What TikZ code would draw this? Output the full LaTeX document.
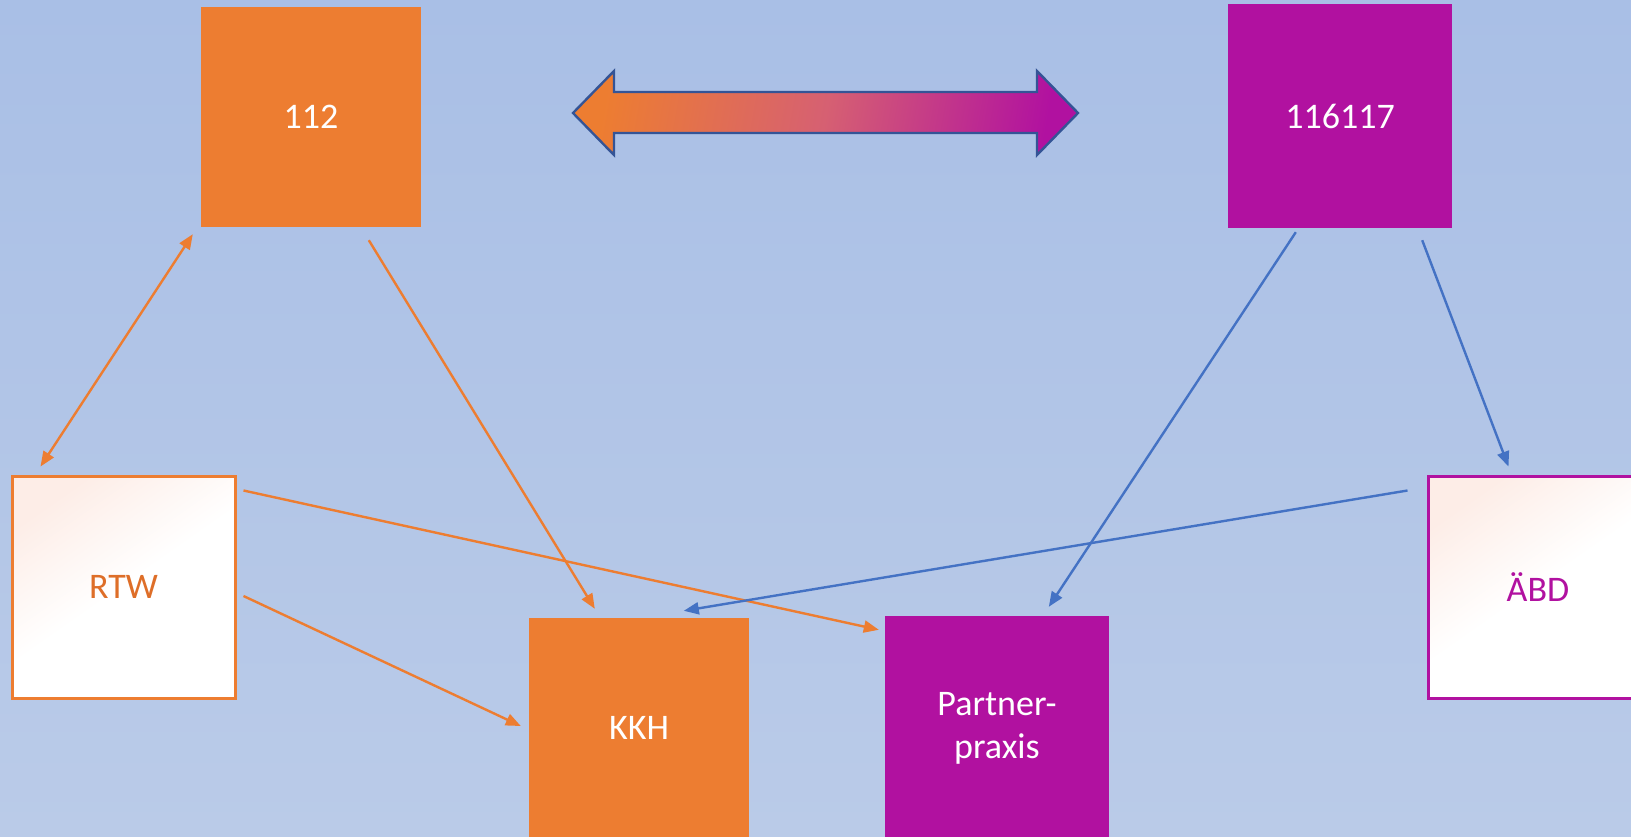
\documentclass[tikz,border=0pt]{standalone}
\usepackage{fontspec}
\setmainfont{Carlito}
\usetikzlibrary{calc,arrows.meta}
\definecolor{bgtop}{RGB}{169,191,230}
\definecolor{bgbot}{RGB}{186,203,232}
\definecolor{orng}{RGB}{237,125,49}
\definecolor{orngtxt}{RGB}{222,110,40}
\definecolor{mag}{RGB}{177,17,160}
\definecolor{pinkmid}{RGB}{214,96,114}
\definecolor{peach}{RGB}{253,237,231}
\definecolor{blu}{RGB}{68,114,196}
\definecolor{darkblu}{RGB}{52,84,150}
\tikzset{
  solidbox/.style={draw=none, inner sep=0pt, text=white, align=center,
    font=\fontsize{36}{43}\selectfont},
  openbox/.style={line width=3pt, inner sep=0pt, align=center,
    top color=peach, bottom color=white, middle color=white, shading angle=35,
    font=\fontsize{36}{43}\selectfont},
  oarrow/.style={draw=orng, line width=2.4pt, -{Triangle[length=15pt,width=12pt]}},
  barrow/.style={draw=blu, line width=2.4pt, -{Triangle[length=15pt,width=12pt]}},
}
\begin{document}
\begin{tikzpicture}[x=1pt,y=-1pt]
\useasboundingbox (0,0) rectangle (1631,836);
\clip (0,0) rectangle (1631,836);
\shade[top color=bgtop, bottom color=bgbot] (0,0) rectangle (1631,836);

% double arrow
\shade[left color=orng, right color=mag, middle color=pinkmid, shading angle=80]
  (573,113) -- (614,71) -- (614,92) -- (1037,92) -- (1037,71) -- (1078,113)
  -- (1037,155) -- (1037,133) -- (614,133) -- (614,155) -- cycle;
\draw[darkblu, line width=2.4pt, line join=miter]
  (573,113) -- (614,71) -- (614,92) -- (1037,92) -- (1037,71) -- (1078,113)
  -- (1037,155) -- (1037,133) -- (614,133) -- (614,155) -- cycle;

% boxes
\node[solidbox, fill=orng, minimum width=220pt, minimum height=220pt] (n112) at (311,117) {112};
\node[solidbox, fill=mag, minimum width=224pt, minimum height=224pt] (n116117) at (1340,116) {116117};
\node[openbox, draw=orng, text=orngtxt, minimum width=223pt, minimum height=222pt] (rtw) at (123.5,587) {RTW};
\node[openbox, draw=mag, text=mag, minimum width=220pt, minimum height=222pt] (abd) at (1538,587) {ÄBD};
\node[solidbox, fill=orng, minimum width=220pt, minimum height=220pt] (kkh) at (639,728) {KKH};
\node[solidbox, fill=mag, minimum width=224pt, minimum height=224pt] (partner) at (997,728) {Partner-\\praxis};

% connectors
\draw[oarrow, {Triangle[length=15pt,width=12pt]}-{Triangle[length=15pt,width=12pt]}]
  ($(rtw.north west)+(30,-8)$) -- ($(n112.south west)+(-8,7)$);
\draw[oarrow] ($(n112.south west)+(168,13)$) -- ($(kkh.north west)+(66,-9)$);
\draw[oarrow] ($(rtw.north east)+(7,16)$) -- ($(partner.north west)+(-6,14)$);
\draw[oarrow] ($(rtw.east)+(7,9)$) -- ($(kkh.west)+(-8,-2)$);
\draw[barrow] ($(n116117.south west)+(68,4)$) -- ($(partner.north west)+(164,-9)$);
\draw[barrow] ($(n116117.south east)+(-30,12)$) -- ($(abd.north west)+(82,-8)$);
\draw[barrow] ($(abd.north west)+(-19,16)$) -- ($(kkh.north west)+(155,-7)$);
\end{tikzpicture}
\end{document}
